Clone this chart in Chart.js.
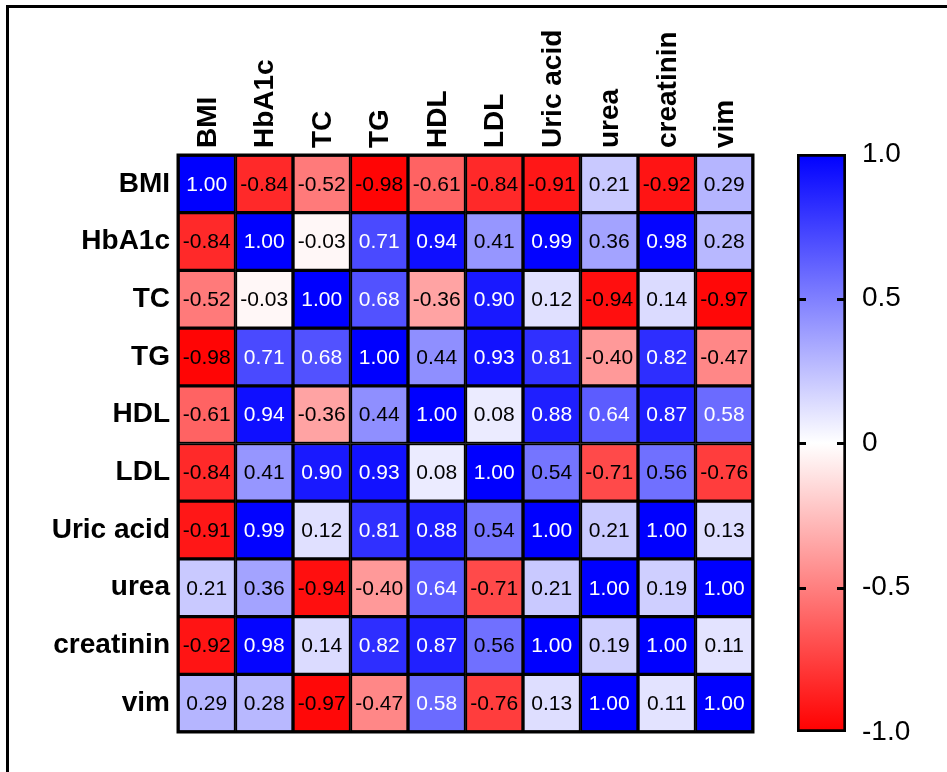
<!DOCTYPE html>
<html>
<head>
<meta charset="utf-8">
<script src="https://cdn.jsdelivr.net/npm/chart.js@4.4.0/dist/chart.umd.min.js"></script>
<style>
  html, body { margin: 0; padding: 0; background: #fff; }
  #wrap { position: relative; width: 947px; height: 772px; overflow: hidden; }
  #wrap canvas { position: absolute; left: 0; top: 0; }
  #frame { position: absolute; left: 6px; top: 5px; width: 960px; height: 800px;
           border-top: 3px solid #000; border-left: 3px solid #000; }
</style>
</head>
<body>
<div id="wrap">
  <div id="frame"></div>
  <canvas id="heat" width="947" height="772"></canvas>
  <canvas id="bar" width="947" height="772"></canvas>
</div>
<script>
const variables = ['BMI', 'HbA1c', 'TC', 'TG', 'HDL', 'LDL', 'Uric acid', 'urea', 'creatinin', 'vim'];

const rowBMI       = [1.00, -0.84, -0.52, -0.98, -0.61, -0.84, -0.91, 0.21, -0.92, 0.29];
const rowHbA1c     = [-0.84, 1.00, -0.03, 0.71, 0.94, 0.41, 0.99, 0.36, 0.98, 0.28];
const rowTC        = [-0.52, -0.03, 1.00, 0.68, -0.36, 0.90, 0.12, -0.94, 0.14, -0.97];
const rowTG        = [-0.98, 0.71, 0.68, 1.00, 0.44, 0.93, 0.81, -0.40, 0.82, -0.47];
const rowHDL       = [-0.61, 0.94, -0.36, 0.44, 1.00, 0.08, 0.88, 0.64, 0.87, 0.58];
const rowLDL       = [-0.84, 0.41, 0.90, 0.93, 0.08, 1.00, 0.54, -0.71, 0.56, -0.76];
const rowUricAcid  = [-0.91, 0.99, 0.12, 0.81, 0.88, 0.54, 1.00, 0.21, 1.00, 0.13];
const rowUrea      = [0.21, 0.36, -0.94, -0.40, 0.64, -0.71, 0.21, 1.00, 0.19, 1.00];
const rowCreatinin = [-0.92, 0.98, 0.14, 0.82, 0.87, 0.56, 1.00, 0.19, 1.00, 0.11];
const rowVim       = [0.29, 0.28, -0.97, -0.47, 0.58, -0.76, 0.13, 1.00, 0.11, 1.00];

const matrix = [rowBMI, rowHbA1c, rowTC, rowTG, rowHDL, rowLDL, rowUricAcid, rowUrea, rowCreatinin, rowVim];

const scaleTicks = [-1, -0.5, 0, 0.5, 1];
const scaleTickLabels = ['-1.0', '-0.5', '0', '0.5', '1.0'];

// white -> blue for positive, white -> red for negative
function colorFor(v) {
  const t = Math.min(1, Math.abs(v));
  const k = Math.round(255 * (1 - t));
  return v >= 0 ? `rgb(${k},${k},255)` : `rgb(255,${k},${k})`;
}

const FONT = 'Liberation Sans, Arial, Helvetica, sans-serif';

// one dataset per row, floating bars [row, row+1] on a linear y axis
const datasets = matrix.map((row, i) => ({
  label: variables[i],
  data: row.map(() => [i, i + 1]),
  values: row,
  backgroundColor: row.map(colorFor),
  borderColor: '#000',
  borderWidth: 2,
  borderSkipped: false,
  barPercentage: 1,
  categoryPercentage: 1,
}));

const cellText = {
  id: 'cellText',
  afterDatasetsDraw(chart) {
    const ctx = chart.ctx;
    ctx.save();
    ctx.font = '21px ' + FONT;
    ctx.textAlign = 'center';
    ctx.textBaseline = 'middle';
    chart.data.datasets.forEach((ds, i) => {
      chart.getDatasetMeta(i).data.forEach((el, j) => {
        const v = ds.values[j];
        const p = el.getCenterPoint();
        ctx.fillStyle = v >= 0.57 ? '#fff' : '#000';
        ctx.fillText(v.toFixed(2), p.x, p.y + 1);
      });
    });
    const a = chart.chartArea;
    ctx.lineWidth = 3;
    ctx.strokeStyle = '#000';
    ctx.strokeRect(a.left, a.top, a.right - a.left, a.bottom - a.top);
    ctx.restore();
  }
};

new Chart(document.getElementById('heat'), {
  type: 'bar',
  data: { labels: variables, datasets },
  options: {
    responsive: false,
    animation: false,
    layout: { padding: { left: 0, top: 0, right: 194, bottom: 40 } },
    plugins: { legend: { display: false }, tooltip: { enabled: false } },
    datasets: { bar: { grouped: false } },
    scales: {
      x: {
        position: 'top',
        grid: { display: false, drawTicks: false },
        border: { display: false },
        ticks: {
          minRotation: 90, maxRotation: 90, autoSkip: false, padding: 7, labelOffset: 35,
          color: '#000', font: { family: FONT, size: 28, weight: 'bold' }
        },
        afterFit(s) { s.height = 155; }
      },
      y: {
        type: 'linear', min: 0, max: 10, reverse: true,
        grid: { display: false, drawTicks: false },
        border: { display: false },
        afterBuildTicks(s) { s.ticks = variables.map((_, i) => ({ value: i + 0.5 })); },
        ticks: {
          autoSkip: false, padding: 8, color: '#000',
          font: { family: FONT, size: 28, weight: 'bold' },
          callback: (v) => variables[Math.floor(v)]
        },
        afterFit(s) { s.width = 178; }
      }
    }
  },
  plugins: [cellText]
});

// colour scale bar
const barTicks = {
  id: 'barTicks',
  afterDatasetsDraw(chart) {
    const ctx = chart.ctx, a = chart.chartArea, y = chart.scales.y;
    ctx.save();
    ctx.strokeStyle = '#000';
    ctx.lineWidth = 3;
    [-0.5, 0, 0.5].forEach(v => {
      const py = Math.round(y.getPixelForValue(v)) + 0.5;
      ctx.beginPath();
      ctx.moveTo(a.left, py); ctx.lineTo(a.left + 9, py);
      ctx.moveTo(a.right - 9, py); ctx.lineTo(a.right, py);
      ctx.stroke();
    });
    ctx.restore();
  }
};

new Chart(document.getElementById('bar'), {
  type: 'bar',
  data: {
    labels: [''],
    datasets: [{
      data: [[-1, 1]],
      backgroundColor(c) {
        const a = c.chart.chartArea;
        if (!a) return '#fff';
        const g = c.chart.ctx.createLinearGradient(0, a.bottom, 0, a.top);
        g.addColorStop(0, colorFor(-1));
        g.addColorStop(0.5, colorFor(0));
        g.addColorStop(1, colorFor(1));
        return g;
      },
      borderColor: '#000',
      borderWidth: 3,
      borderSkipped: false,
      barPercentage: 1,
      categoryPercentage: 1,
    }]
  },
  options: {
    responsive: false,
    animation: false,
    layout: { padding: { left: 797, top: 154, right: 0, bottom: 40 } },
    plugins: { legend: { display: false }, tooltip: { enabled: false } },
    scales: {
      x: { display: false },
      y: {
        position: 'right', min: -1, max: 1,
        grid: { display: false, drawTicks: false },
        border: { display: false },
        afterBuildTicks(s) { s.ticks = scaleTicks.map(v => ({ value: v })); },
        ticks: {
          padding: 16, color: '#000',
          font: { family: FONT, size: 28 },
          callback: (v) => scaleTickLabels[scaleTicks.indexOf(v)]
        },
        afterFit(s) { s.width = 101; }
      }
    }
  },
  plugins: [barTicks]
});
</script>
</body>
</html>
